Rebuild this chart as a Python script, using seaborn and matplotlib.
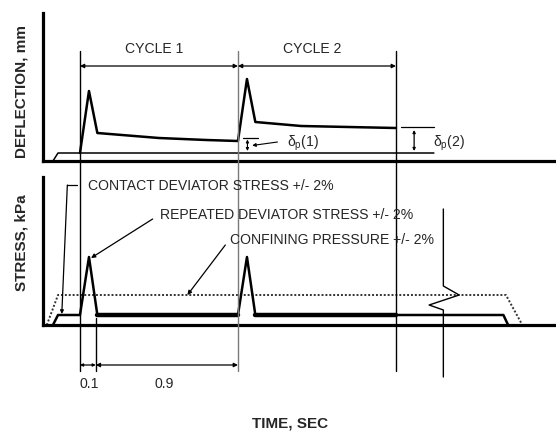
import matplotlib
matplotlib.use("Agg")
import matplotlib.pyplot as plt
import seaborn as sns

# ---- data (time in seconds, amplitudes in schematic units) ----
defl_t = [0.0, 0.057, 0.11, 0.5, 0.8, 1.0, 1.057, 1.11, 1.4, 2.0]
defl_y = [8, 70, 28, 23, 21, 20, 82, 39, 35, 33]
base_t = [-0.171, -0.139, 2.24]
base_y = [0, 8, 8]

stress_t = [-0.171, -0.139, 0.0, 0.057, 0.11, 1.0, 1.057, 1.11, 2.0, 2.68, 2.71]
stress_y = [0, 10, 10, 68, 10, 10, 68, 10, 10, 10, 0]
conf_t = [-0.21, -0.139, 2.696, 2.80]
conf_y = [0, 30, 30, 0]

cycle_bounds = [0.0, 1.0, 2.0]
cycle_labels = ["CYCLE 1", "CYCLE 2"]
pulse_width = 0.1
rest_period = 0.9
break_t = 2.30

sns.set_theme(style="white")
plt.rcParams["font.family"] = ["Liberation Sans", "DejaVu Sans"]
plt.rcParams["mathtext.fontset"] = "custom"
plt.rcParams["mathtext.rm"] = "Liberation Sans"
plt.rcParams["mathtext.it"] = "Liberation Sans"

FS = 10.1
W, H = 556, 433
XLIM = (-0.234, 3.013)
YLIM = (0, 148)
fig = plt.figure(figsize=(W / 100, H / 100), dpi=100)
ax_top = fig.add_axes([43 / W, 1 - 161 / H, 513 / W, 148 / H])
ax_bot = fig.add_axes([43 / W, 1 - 325 / H, 513 / W, 148 / H])

# deflection panel
sns.lineplot(x=base_t, y=base_y, ax=ax_top, color="black", lw=1.1, sort=False)
sns.lineplot(x=defl_t, y=defl_y, ax=ax_top, color="black", lw=1.8, sort=False)

# stress panel
sns.lineplot(x=conf_t, y=conf_y, ax=ax_bot, color="#333333", lw=1.4,
             linestyle=(0, (1, 1)), sort=False)
sns.lineplot(x=stress_t, y=stress_y, ax=ax_bot, color="black", lw=1.8, sort=False)
# heavier rest periods between pulses
for a, b in [(stress_t[4], stress_t[5]), (stress_t[7], stress_t[8])]:
    sns.lineplot(x=[a, b], y=[stress_y[4], stress_y[5]], ax=ax_bot,
                 color="black", lw=3.2, sort=False)

for ax in (ax_top, ax_bot):
    ax.set_xlim(*XLIM)
    ax.set_ylim(*YLIM)
    ax.set_xticks([])
    ax.set_yticks([])
    ax.set_xlabel("")
    ax.set_ylabel("")
    sns.despine(ax=ax)
    for s in ("left", "bottom"):
        ax.spines[s].set_linewidth(2.3)
        ax.spines[s].set_color("black")

# overlay for guide lines spanning both panels (x in seconds, y in pixels)
ov = fig.add_axes([43 / W, 0, 513 / W, 1])
ov.set_xlim(*XLIM)
ov.set_ylim(H, 0)
ov.axis("off")
ov.patch.set_alpha(0)

guide_colors = ["black", "#7a7a7a", "black"]
for t, c in zip(cycle_bounds, guide_colors):
    ov.plot([t, t], [51, 371], color=c, lw=1.0, clip_on=False)
ov.plot([pulse_width, pulse_width], [318, 371], color="black", lw=1.0)

arrow = dict(arrowstyle="<|-|>", lw=0.9, color="black", mutation_scale=6,
             shrinkA=0, shrinkB=0)
for i, lab in enumerate(cycle_labels):
    a, b = cycle_bounds[i], cycle_bounds[i + 1]
    ov.annotate("", xy=(b, 66), xytext=(a, 66), arrowprops=arrow)
    ov.text(a + 0.47, 49, lab, ha="center", va="center", fontsize=FS)

ov.annotate("", xy=(pulse_width, 365), xytext=(0, 365),
            arrowprops=dict(arrow, mutation_scale=4))
ov.annotate("", xy=(pulse_width + rest_period, 365), xytext=(pulse_width, 365),
            arrowprops=arrow)
ov.text(pulse_width / 2 + 0.01, 384, "0.1", ha="center", va="center", fontsize=FS)
ov.text(pulse_width + 0.43, 384, "0.9", ha="center", va="center", fontsize=FS)

# break symbol
ov.plot([break_t, break_t, break_t + 0.10, break_t - 0.09, break_t, break_t],
        [209, 286, 295, 305, 310, 377], color="black", lw=1.0)

# permanent deformation markers
ov.plot([1.03, 1.125], [138, 138], color="black", lw=0.9)
ov.annotate("", xy=(1.06, 139.5), xytext=(1.06, 151),
            arrowprops=dict(arrowstyle="<|-|>", lw=0.8, color="black",
                            mutation_scale=4, shrinkA=0, shrinkB=0))
ov.annotate("", xy=(1.09, 145.5), xytext=(1.25, 142),
            arrowprops=dict(arrowstyle="-|>", lw=0.8, color="black",
                            mutation_scale=5, shrinkA=0, shrinkB=0))
ov.text(1.31, 143, r"$\delta_p$(1)", ha="left", va="center", fontsize=FS)

ov.plot([2.03, 2.24], [127, 127], color="black", lw=0.9)
ov.annotate("", xy=(2.115, 130), xytext=(2.115, 151),
            arrowprops=dict(arrowstyle="<|-|>", lw=0.9, color="black",
                            mutation_scale=4, shrinkA=0, shrinkB=0))
ov.text(2.235, 143, r"$\delta_p$(2)", ha="left", va="center", fontsize=FS)

# stress annotations
ov.plot([-0.02, -0.08], [185, 185], color="black", lw=0.9)
ov.annotate("", xy=(-0.115, 314), xytext=(-0.08, 185),
            arrowprops=dict(arrowstyle="-|>", lw=0.9, color="black",
                            mutation_scale=5, shrinkA=0, shrinkB=0))
ov.text(0.05, 186, "CONTACT DEVIATOR STRESS +/- 2%", ha="left", va="center",
        fontsize=FS)

ov.annotate("", xy=(0.07, 258), xytext=(0.46, 219),
            arrowprops=dict(arrowstyle="-|>", lw=0.9, color="black",
                            mutation_scale=6, shrinkA=0, shrinkB=0))
ov.text(0.505, 215, "REPEATED DEVIATOR STRESS +/- 2%", ha="left", va="center",
        fontsize=FS)

ov.annotate("", xy=(0.68, 295), xytext=(0.92, 245),
            arrowprops=dict(arrowstyle="-|>", lw=0.9, color="black",
                            mutation_scale=6, shrinkA=0, shrinkB=0))
ov.text(0.95, 240, "CONFINING PRESSURE +/- 2%", ha="left", va="center",
        fontsize=FS)

# axis titles
fig.text(22 / W, 1 - 91 / H, "DEFLECTION, mm", rotation=90, ha="center",
         va="center", fontsize=11, fontweight="bold")
fig.text(22 / W, 1 - 243 / H, "STRESS, kPa", rotation=90, ha="center",
         va="center", fontsize=11, fontweight="bold")
fig.text(290 / W, 1 - 423 / H, "TIME, SEC", ha="center", va="center",
         fontsize=11, fontweight="bold")

fig.savefig("out.png", dpi=100, facecolor="white")
